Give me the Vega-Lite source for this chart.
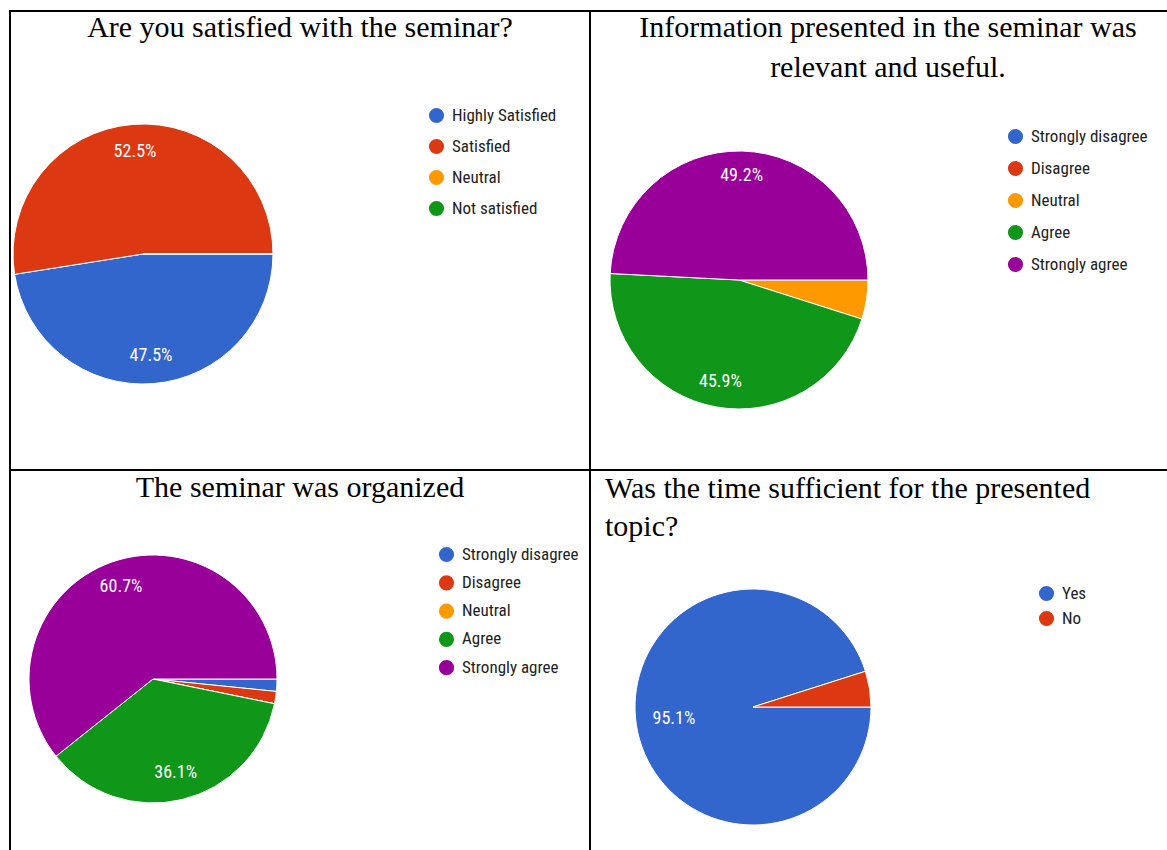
{
  "$schema": "https://vega.github.io/schema/vega-lite/v6.json",
  "background": "white",
  "padding": {"left": 9, "top": 10, "right": 0, "bottom": 0},
  "autosize": {"type": "pad"},
  "bounds": "flush",
  "spacing": 0,
  "columns": 2,
  "align": "each",
  "config": {
    "view": {"stroke": "black", "strokeWidth": 2},
    "concat": {"spacing": 0},
    "title": {"font": "Liberation Serif", "fontSize": 30, "fontWeight": "normal", "color": "black", "frame": "group", "baseline": "alphabetic"},
    "legend": {"title": null, "orient": "none", "symbolType": "circle", "symbolSize": 230, "symbolStrokeWidth": 0, "labelFont": "Liberation Sans Narrow, Roboto Condensed, Arial Narrow, sans-serif", "labelFontSize": 17, "labelColor": "#222222", "labelOffset": 7, "padding": 0}
  },
  "datasets": {
    "q1": [
      {"answer": "Highly Satisfied", "share": 0.475, "idx": 1},
      {"answer": "Satisfied", "share": 0.525, "idx": 2},
      {"answer": "Neutral", "share": 0, "idx": 3},
      {"answer": "Not satisfied", "share": 0, "idx": 4}
    ],
    "q2": [
      {"answer": "Strongly disagree", "share": 0, "idx": 1},
      {"answer": "Disagree", "share": 0, "idx": 2},
      {"answer": "Neutral", "share": 0.049, "idx": 3},
      {"answer": "Agree", "share": 0.459, "idx": 4},
      {"answer": "Strongly agree", "share": 0.492, "idx": 5}
    ],
    "q3": [
      {"answer": "Strongly disagree", "share": 0.016, "idx": 1},
      {"answer": "Disagree", "share": 0.016, "idx": 2},
      {"answer": "Neutral", "share": 0, "idx": 3},
      {"answer": "Agree", "share": 0.361, "idx": 4},
      {"answer": "Strongly agree", "share": 0.607, "idx": 5}
    ],
    "q4": [
      {"answer": "Yes", "share": 0.951, "idx": 1},
      {"answer": "No", "share": 0.049, "idx": 2}
    ]
  },
  "resolve": {"scale": {"color": "independent", "theta": "independent"}},
  "concat": [
    {
      "width": 580, "height": 459,
      "view": {"stroke": "black", "strokeWidth": 2},
      "title": {"text": "Are you satisfied with the seminar?", "anchor": "middle", "offset": -32},
      "data": {"name": "q1"},
      "encoding": {
        "theta": {"field": "share", "type": "quantitative", "stack": true, "scale": {"range": [1.5708, 7.854]}},
        "order": {"field": "idx", "type": "quantitative"},
        "color": {"field": "answer", "type": "nominal", "sort": null,
          "scale": {"domain": ["Highly Satisfied", "Satisfied", "Neutral", "Not satisfied"], "range": ["#3366CC", "#DC3912", "#FF9900", "#109618"]},
          "legend": {"legendX": 418, "legendY": 96, "rowPadding": 13}}
      },
      "layer": [
        {"mark": {"type": "arc", "outerRadius": 130, "x": 133, "y": 243, "stroke": "white", "strokeWidth": 1}},
        {"mark": {"type": "text", "radius": 102, "x": 133, "y": 243, "fill": "white", "font": "Liberation Sans Narrow, Roboto Condensed, sans-serif", "fontSize": 18},
         "encoding": {"text": {"condition": {"test": "datum.share < 0.1", "value": ""}, "field": "share", "type": "quantitative", "format": ".1%"}, "color": {"value": "white"}}}
      ]
    },
    {
      "width": 580, "height": 459,
      "view": {"stroke": "black", "strokeWidth": 2},
      "title": {"text": ["Information presented in the seminar was", "relevant and useful."], "anchor": "middle", "dx": 8, "offset": -72, "lineHeight": 40},
      "data": {"name": "q2"},
      "encoding": {
        "theta": {"field": "share", "type": "quantitative", "stack": true, "scale": {"range": [1.5708, 7.854]}},
        "order": {"field": "idx", "type": "quantitative"},
        "color": {"field": "answer", "type": "nominal", "sort": null,
          "scale": {"domain": ["Strongly disagree", "Disagree", "Neutral", "Agree", "Strongly agree"], "range": ["#3366CC", "#DC3912", "#FF9900", "#109618", "#990099"]},
          "legend": {"legendX": 417, "legendY": 117, "rowPadding": 14}}
      },
      "layer": [
        {"mark": {"type": "arc", "outerRadius": 129, "x": 149, "y": 269, "stroke": "white", "strokeWidth": 1}},
        {"mark": {"type": "text", "radius": 104, "x": 149, "y": 269, "fill": "white", "font": "Liberation Sans Narrow, Roboto Condensed, sans-serif", "fontSize": 18},
         "encoding": {"text": {"condition": {"test": "datum.share < 0.1", "value": ""}, "field": "share", "type": "quantitative", "format": ".1%"}, "color": {"value": "white"}}}
      ]
    },
    {
      "width": 580, "height": 381,
      "view": {"stroke": "black", "strokeWidth": 2},
      "title": {"text": "The seminar was organized", "anchor": "middle", "offset": -33},
      "data": {"name": "q3"},
      "encoding": {
        "theta": {"field": "share", "type": "quantitative", "stack": true, "scale": {"range": [1.5708, 7.854]}},
        "order": {"field": "idx", "type": "quantitative"},
        "color": {"field": "answer", "type": "nominal", "sort": null,
          "scale": {"domain": ["Strongly disagree", "Disagree", "Neutral", "Agree", "Strongly agree"], "range": ["#3366CC", "#DC3912", "#FF9900", "#109618", "#990099"]},
          "legend": {"legendX": 428, "legendY": 76, "rowPadding": 10.3}}
      },
      "layer": [
        {"mark": {"type": "arc", "outerRadius": 124, "x": 143, "y": 209, "stroke": "white", "strokeWidth": 1}},
        {"mark": {"type": "text", "radius": 97, "x": 143, "y": 209, "fill": "white", "font": "Liberation Sans Narrow, Roboto Condensed, sans-serif", "fontSize": 18},
         "encoding": {"text": {"condition": {"test": "datum.share < 0.1", "value": ""}, "field": "share", "type": "quantitative", "format": ".1%"}, "color": {"value": "white"}}}
      ]
    },
    {
      "width": 580, "height": 381,
      "view": {"stroke": "black", "strokeWidth": 2},
      "title": {"text": ["Was the time sufficient for the presented", "topic?"], "anchor": "start", "dx": 15, "offset": -72, "lineHeight": 38},
      "data": {"name": "q4"},
      "encoding": {
        "theta": {"field": "share", "type": "quantitative", "stack": true, "scale": {"range": [1.5708, 7.854]}},
        "order": {"field": "idx", "type": "quantitative"},
        "color": {"field": "answer", "type": "nominal", "sort": null,
          "scale": {"domain": ["Yes", "No"], "range": ["#3366CC", "#DC3912"]},
          "legend": {"legendX": 448, "legendY": 115, "rowPadding": 7}}
      },
      "layer": [
        {"mark": {"type": "arc", "outerRadius": 118, "x": 163, "y": 237, "stroke": "white", "strokeWidth": 1}},
        {"mark": {"type": "text", "radius": 80, "x": 163, "y": 237, "fill": "white", "font": "Liberation Sans Narrow, Roboto Condensed, sans-serif", "fontSize": 18},
         "encoding": {"text": {"condition": {"test": "datum.share < 0.1", "value": ""}, "field": "share", "type": "quantitative", "format": ".1%"}, "color": {"value": "white"}}}
      ]
    }
  ]
}
